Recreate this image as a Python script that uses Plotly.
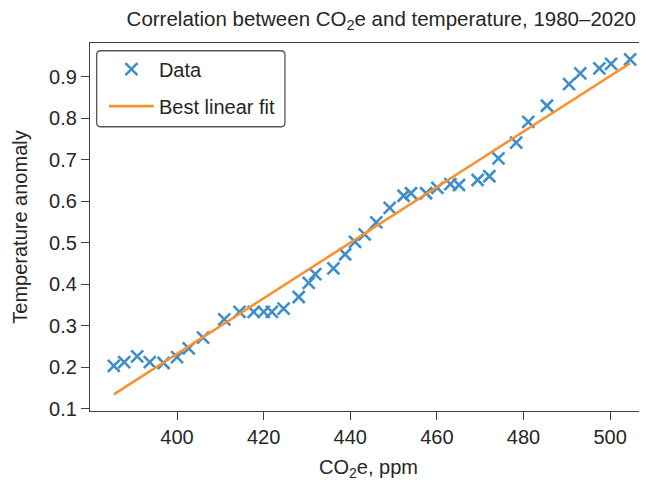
import numpy as np
import plotly.graph_objects as go

co2_ppm = [385.4, 387.8, 390.8, 393.7, 396.9, 400.0, 402.7, 406.0, 410.9, 414.4,
           417.7, 420.0, 421.9, 424.6, 428.1, 430.4, 431.9, 436.1, 438.8, 441.1,
           443.3, 446.0, 449.1, 452.3, 454.0, 457.5, 460.1, 463.1, 465.1, 469.4,
           472.1, 474.2, 478.3, 481.1, 485.4, 490.5, 493.1, 497.5, 500.2, 504.6]
temp_anomaly = [0.203, 0.212, 0.226, 0.212, 0.210, 0.224, 0.245, 0.271, 0.315, 0.333,
                0.333, 0.333, 0.333, 0.341, 0.369, 0.403, 0.424, 0.438, 0.472, 0.502,
                0.520, 0.549, 0.584, 0.613, 0.619, 0.619, 0.632, 0.641, 0.639, 0.651,
                0.660, 0.703, 0.741, 0.791, 0.830, 0.882, 0.908, 0.920, 0.931, 0.942]

x_ticks = [400, 420, 440, 460, 480, 500]
y_ticks = [0.1, 0.2, 0.3, 0.4, 0.5, 0.6, 0.7, 0.8, 0.9]

BLUE = "#3d8ec9"
ORANGE = "#f8912f"
TXT = "#262626"
AX = "#404040"
FONT = "Liberation Sans, Arial, sans-serif"

slope, intercept = np.polyfit(co2_ppm, temp_anomaly, 1)
fit_x = [min(co2_ppm), max(co2_ppm)]
fit_y = [slope * v + intercept for v in fit_x]

fig = go.Figure()
fig.add_trace(go.Scatter(
    x=co2_ppm, y=temp_anomaly, mode="markers", name="Data", legendgroup="a",
    marker=dict(symbol="x-thin", size=12, color=BLUE, line=dict(color=BLUE, width=2.6)),
))
fig.add_trace(go.Scatter(
    x=fit_x, y=fit_y, mode="lines", name="Best linear fit", legendgroup="b",
    line=dict(color=ORANGE, width=2.6),
))

# rounded legend frame (paper coords)
x0, x1, y0, y1 = 0.012, 0.350, 0.7724, 0.979
rx, ry = 0.0075, 0.011
path = (f"M {x0+rx},{y1} L {x1-rx},{y1} Q {x1},{y1} {x1},{y1-ry} "
        f"L {x1},{y0+ry} Q {x1},{y0} {x1-rx},{y0} L {x0+rx},{y0} "
        f"Q {x0},{y0} {x0},{y0+ry} L {x0},{y1-ry} Q {x0},{y1} {x0+rx},{y1} Z")
fig.add_shape(type="path", path=path, xref="paper", yref="paper",
              line=dict(color="#555555", width=1.3), fillcolor="rgba(255,255,255,0.9)", layer="above")

fig.update_layout(
    width=639, height=473,
    margin=dict(l=82, r=0, t=35, b=70),
    paper_bgcolor="white", plot_bgcolor="white",
    font=dict(family=FONT, size=20, color=TXT),
    title=dict(text="Correlation between CO<sub>2</sub>e and temperature, 1980–2020",
               x=0.523, xref="paper", xanchor="center",
               y=1 - 11 / 473, yref="container", yanchor="middle",
               font=dict(family=FONT, size=20.5, color=TXT)),
    showlegend=True,
    legend=dict(x=0.025, y=0.982, xanchor="left", yanchor="top",
                bgcolor="rgba(0,0,0,0)", borderwidth=0, itemwidth=45,
                traceorder="grouped", tracegroupgap=8,
                font=dict(family=FONT, size=20, color=TXT)),
    xaxis=dict(range=[379.9, 508.5], tickvals=x_ticks, ticktext=[str(v) for v in x_ticks],
               showgrid=False, zeroline=False, showline=True, linecolor=AX, linewidth=1.3,
               mirror=True, ticks="outside", ticklen=8, tickwidth=1.3, tickcolor=AX,
               title=dict(text="CO<sub>2</sub>e, ppm", standoff=12,
                          font=dict(family=FONT, size=20, color=TXT))),
    yaxis=dict(range=[0.0942, 0.9813], tickvals=y_ticks, ticktext=[f"{v:.1f}" for v in y_ticks],
               showgrid=False, zeroline=False, showline=True, linecolor=AX, linewidth=1.3,
               mirror=False, ticks="outside", ticklen=8, tickwidth=1.3, tickcolor=AX,
               title=dict(text="Temperature anomaly", standoff=16,
                          font=dict(family=FONT, size=20, color=TXT))),
)

fig.write_html("out.html")
